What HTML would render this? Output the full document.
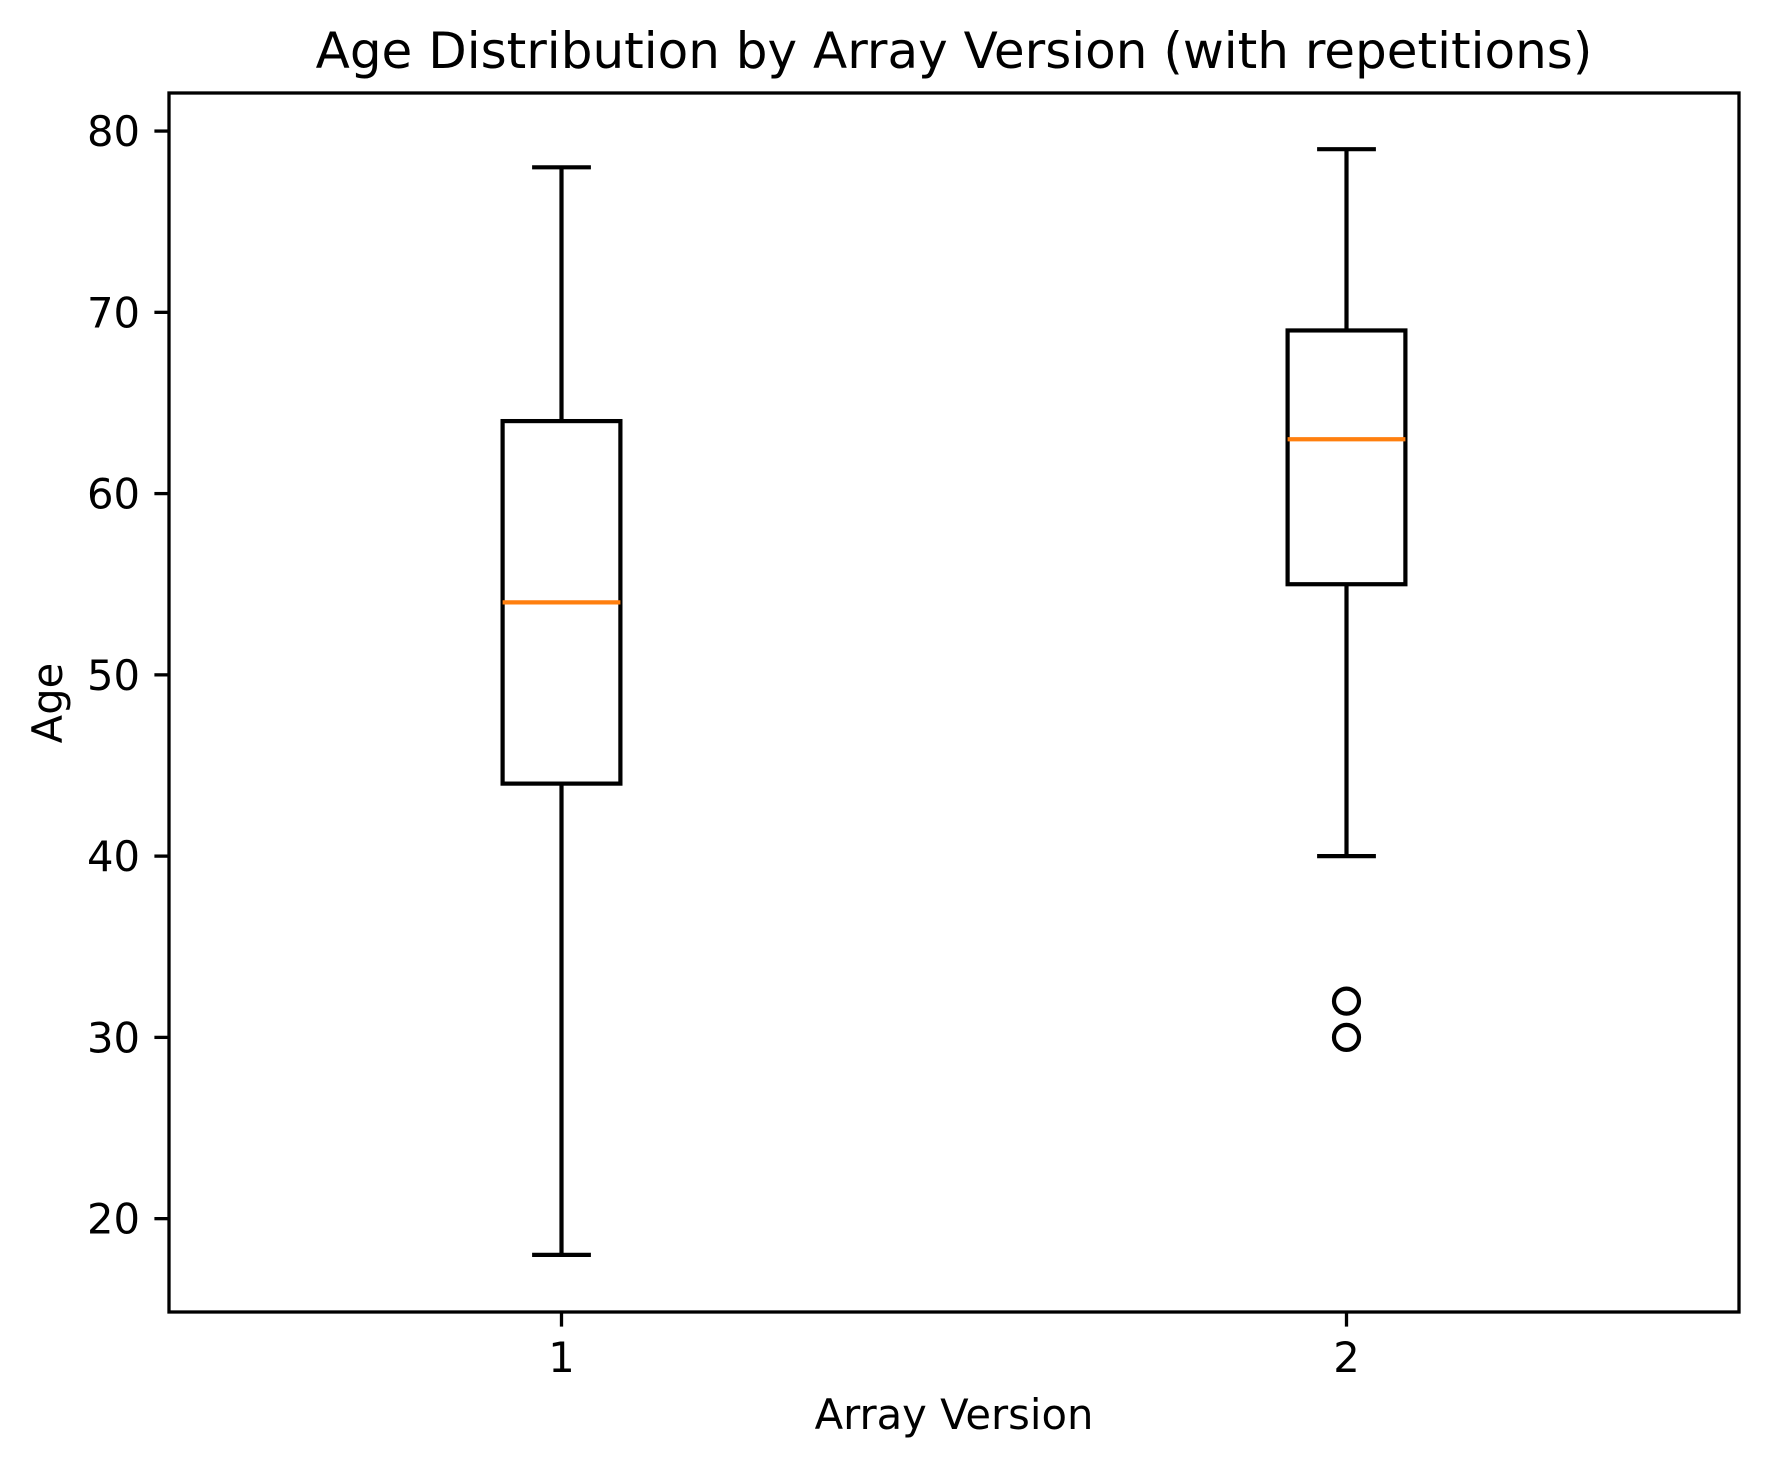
<!DOCTYPE html>
<html><head><meta charset="utf-8"><style>
html,body{margin:0;padding:0;background:#fff;}
svg{display:block;font-family:"DejaVu Sans","Liberation Sans",sans-serif;}
</style></head><body>
<svg id="chart" width="1767" height="1468" viewBox="0 0 1767 1468" xmlns="http://www.w3.org/2000/svg">
<rect width="1767" height="1468" fill="#fff"/>
<text x="954" y="68" font-size="50" text-anchor="middle">Age Distribution by Array Version (with repetitions)</text>
<g id="plot"></g>
<rect x="169" y="93" width="1570" height="1219" fill="none" stroke="#000" stroke-width="3.3"/>
<text x="954" y="1429" font-size="41.7" text-anchor="middle">Array Version</text>
<text transform="translate(62,703) rotate(-90)" font-size="41.7" text-anchor="middle">Age</text>
</svg>
<script>
const categories = ["1", "2"];
const whiskerLow = [18, 40];
const q1 = [44, 55];
const medians = [54, 63];
const q3 = [64, 69];
const whiskerHigh = [78, 79];
const outliers = [[], [30, 32]];
const yTicks = [20, 30, 40, 50, 60, 70, 80];

const NS = "http://www.w3.org/2000/svg";
const L = 169, R = 1739, T = 93, B = 1312;
const yMin = 14.85, yMax = 82.1;
function y(v){ return B - (v - yMin) / (yMax - yMin) * (B - T); }
function x(i){ return L + (i + 1 - 0.5) / 2 * (R - L); }
const g = document.getElementById('plot');
function mk(tag, attrs){ const e = document.createElementNS(NS, tag); for (const k in attrs) e.setAttribute(k, attrs[k]); g.appendChild(e); return e; }
const halfW = 0.075 / 2 * (R - L) * 2 / 2;
yTicks.forEach(t => {
  const tk = mk('line', {x1: L - 14.6, x2: L, y1: y(t), y2: y(t), stroke: '#000', 'stroke-width': 3.3});
  
  
  const lb = mk('text', {x: L - 29, y: y(t) + 15, 'font-size': 41.7, 'text-anchor': 'end'});
  lb.textContent = t;
  
  
});
categories.forEach((c, i) => {
  const cx = x(i);
  const tk = mk('line', {x1: cx, x2: cx, y1: B, y2: B + 14.6, stroke: '#000', 'stroke-width': 3.3});
  
  
  const lb = mk('text', {x: cx, y: B + 60, 'font-size': 41.7, 'text-anchor': 'middle'});
  lb.textContent = c;
  
  
  const w = 58.9, cap = 29.4;
  const wl = mk('line', {x1: cx, x2: cx, y1: y(q1[i]), y2: y(whiskerLow[i]), stroke: '#000', 'stroke-width': 4.2});
  
  
  const wh = mk('line', {x1: cx, x2: cx, y1: y(q3[i]), y2: y(whiskerHigh[i]), stroke: '#000', 'stroke-width': 4.2});
  
  
  const cl = mk('line', {x1: cx - cap, x2: cx + cap, y1: y(whiskerLow[i]), y2: y(whiskerLow[i]), stroke: '#000', 'stroke-width': 4.2});
  
  
  const ch = mk('line', {x1: cx - cap, x2: cx + cap, y1: y(whiskerHigh[i]), y2: y(whiskerHigh[i]), stroke: '#000', 'stroke-width': 4.2});
  
  
  const bx = mk('rect', {x: cx - w, y: y(q3[i]), width: 2 * w, height: y(q1[i]) - y(q3[i]), fill: 'none', stroke: '#000', 'stroke-width': 4.2});
  
  
  const md = mk('line', {x1: cx - w, x2: cx + w, y1: y(medians[i]), y2: y(medians[i]), stroke: '#ff7f0e', 'stroke-width': 4.2});
  
  
  outliers[i].forEach(o => {
    const fl = mk('circle', {cx: cx, cy: y(o), r: 12.5, fill: 'none', stroke: '#000', 'stroke-width': 4.2});
    
    
  });
});
</script>
</body></html>
